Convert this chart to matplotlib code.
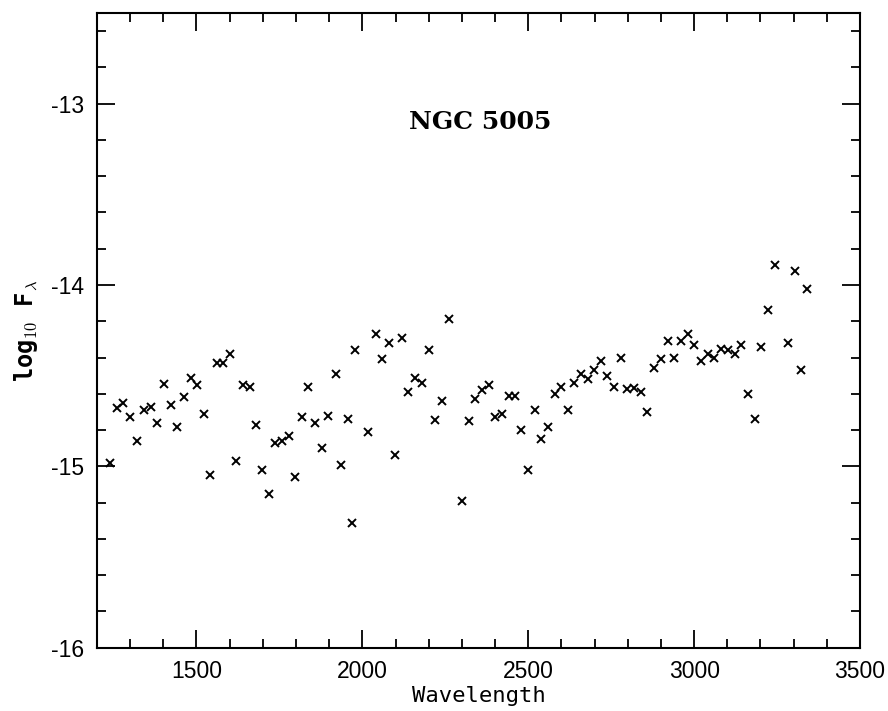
import numpy as np
import matplotlib
matplotlib.use('Agg')
import matplotlib.pyplot as plt
from matplotlib.ticker import MultipleLocator

plt.rcParams['mathtext.fontset'] = 'cm'
plt.rcParams['axes.unicode_minus'] = False

# wavelength (Angstrom) and log10 flux
wave = [1239, 1259, 1279, 1301, 1322, 1342, 1362, 1382, 1402, 1422,
        1442, 1462, 1482, 1502, 1523, 1542, 1562, 1581, 1601, 1619,
        1640, 1660, 1679, 1697, 1719, 1738, 1757, 1778, 1798, 1817,
        1837, 1858, 1877, 1897, 1919, 1937, 1958, 1968, 1979, 2017,
        2040, 2059, 2079, 2098, 2120, 2139, 2159, 2180, 2200, 2219,
        2240, 2261, 2299, 2321, 2340, 2361, 2381, 2401, 2420, 2441,
        2460, 2479, 2499, 2519, 2539, 2560, 2580, 2600, 2619, 2639,
        2659, 2679, 2699, 2718, 2738, 2759, 2780, 2799, 2819, 2839,
        2859, 2879, 2901, 2921, 2940, 2961, 2981, 3001, 3020, 3042,
        3061, 3081, 3101, 3122, 3142, 3163, 3183, 3203, 3224, 3245,
        3283, 3304, 3323, 3341]
logf = [-14.98, -14.68, -14.65, -14.73, -14.86, -14.69, -14.67, -14.76, -14.545, -14.66,
        -14.785, -14.62, -14.51, -14.55, -14.71, -15.05, -14.43, -14.43, -14.38, -14.97,
        -14.55, -14.56, -14.77, -15.02, -15.15, -14.87, -14.86, -14.83, -15.06, -14.73,
        -14.56, -14.76, -14.90, -14.72, -14.49, -14.99, -14.74, -15.31, -14.36, -14.81,
        -14.27, -14.41, -14.32, -14.94, -14.29, -14.59, -14.51, -14.54, -14.36, -14.745,
        -14.64, -14.19, -15.19, -14.75, -14.63, -14.58, -14.55, -14.73, -14.71, -14.61,
        -14.61, -14.80, -15.02, -14.69, -14.85, -14.785, -14.60, -14.56, -14.69, -14.54,
        -14.49, -14.52, -14.47, -14.42, -14.50, -14.56, -14.40, -14.575, -14.57, -14.59,
        -14.70, -14.455, -14.41, -14.31, -14.40, -14.31, -14.27, -14.33, -14.42, -14.38,
        -14.40, -14.35, -14.36, -14.38, -14.33, -14.60, -14.74, -14.34, -14.14, -13.89,
        -14.32, -13.925, -14.47, -14.02]

fig = plt.figure(figsize=(8.88, 7.11), dpi=100)
ax = fig.add_axes([0.1092, 0.089, 0.8593, 0.8927])

ax.plot(wave, logf, 'x', color='black', markersize=5.5, markeredgewidth=1.4)

ax.set_xlim(1200, 3500)
ax.set_ylim(-16, -12.5)
ax.xaxis.set_major_locator(MultipleLocator(500))
ax.xaxis.set_minor_locator(MultipleLocator(100))
ax.yaxis.set_major_locator(MultipleLocator(1))
ax.yaxis.set_minor_locator(MultipleLocator(0.2))
ax.tick_params(which='both', direction='in', top=True, right=True, width=1.3,
               labelsize=16.5, pad=9)
ax.tick_params(which='major', length=13)
ax.tick_params(which='minor', length=6.5)
for lab in ax.get_xticklabels() + ax.get_yticklabels():
    lab.set_family('Liberation Sans')
for s in ax.spines.values():
    s.set_linewidth(1.5)

ax.text(2355, -13.1, 'NGC 5005', fontsize=18, fontweight='bold',
        family='DejaVu Serif', ha='center', va='center')
ax.set_xlabel('Wavelength', fontsize=16, family='DejaVu Sans Mono', labelpad=2)
ax.set_ylabel(r'log$_{10}$ F$_{\lambda}$', fontsize=17, family='DejaVu Sans Mono',
              fontweight='bold', labelpad=8)

fig.savefig('out.png', dpi=100)
